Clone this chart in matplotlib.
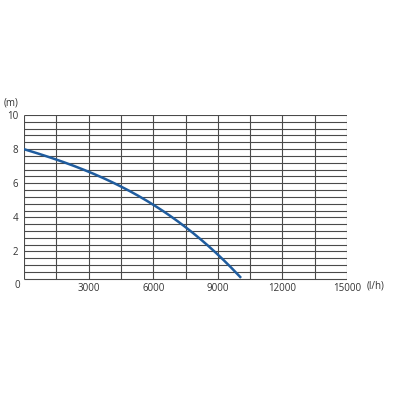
"""Pump curve: head (m) vs flow (l/h)."""
import numpy as np
import matplotlib

matplotlib.use("Agg")
import matplotlib.pyplot as plt

plt.rcParams["font.family"] = ["Open Sans", "DejaVu Sans"]

flow = [0, 1500, 3000, 4500, 6000, 7500, 9000, 10080]
head = [8.0, 7.38, 6.68, 5.8, 4.77, 3.4, 1.83, 0.45]
x_ticks = [3000, 6000, 9000, 12000, 15000]
y_ticks = [2, 4, 6, 8, 10]
x_grid = np.arange(0, 15001, 1500)
y_grid = np.arange(0.4, 10.01, 0.4)

TXT = "#333333"
GRID = "#4a4a4a"

fig = plt.figure(figsize=(4, 4), dpi=100)
ax = fig.add_axes([0.06, 0.286, 0.8075, 0.4265])
ax.set_xlim(0, 15000)
ax.set_ylim(0, 10)
for s in ax.spines.values():
    s.set_visible(False)

ax.hlines(y_grid, 0, 15000, color=GRID, lw=0.8)
ax.vlines(x_grid, y_grid[0], 10, color=GRID, lw=0.8)

# smooth curve through the read-off points
xs = np.linspace(flow[0], flow[-1], 200)
coef = np.polyfit(flow, head, 3)
ax.plot(xs, np.polyval(coef, xs), color="#1f5c9e", lw=1.8, zorder=3,
        solid_capstyle="butt")

ax.set_xticks(x_ticks)
ax.set_xticklabels([str(v) for v in x_ticks])
ax.set_yticks(y_ticks)
ax.set_yticklabels([str(v) for v in y_ticks])
ax.tick_params(length=0, labelsize=7, colors=TXT, pad=-2)
ax.tick_params(axis="y", pad=4)

ax.text(-0.022, 0, "0", transform=ax.get_yaxis_transform(), ha="center",
        va="center", fontsize=7, color=TXT)
ax.text(-0.04, 10.7, "(m)", transform=ax.get_yaxis_transform(), ha="center",
        va="center", fontsize=7, color=TXT)
ax.text(1.06, 0, "(l/h)", transform=ax.get_yaxis_transform(), ha="left",
        va="center", fontsize=7, color=TXT)

fig.savefig("out.png", dpi=100, facecolor="white")
